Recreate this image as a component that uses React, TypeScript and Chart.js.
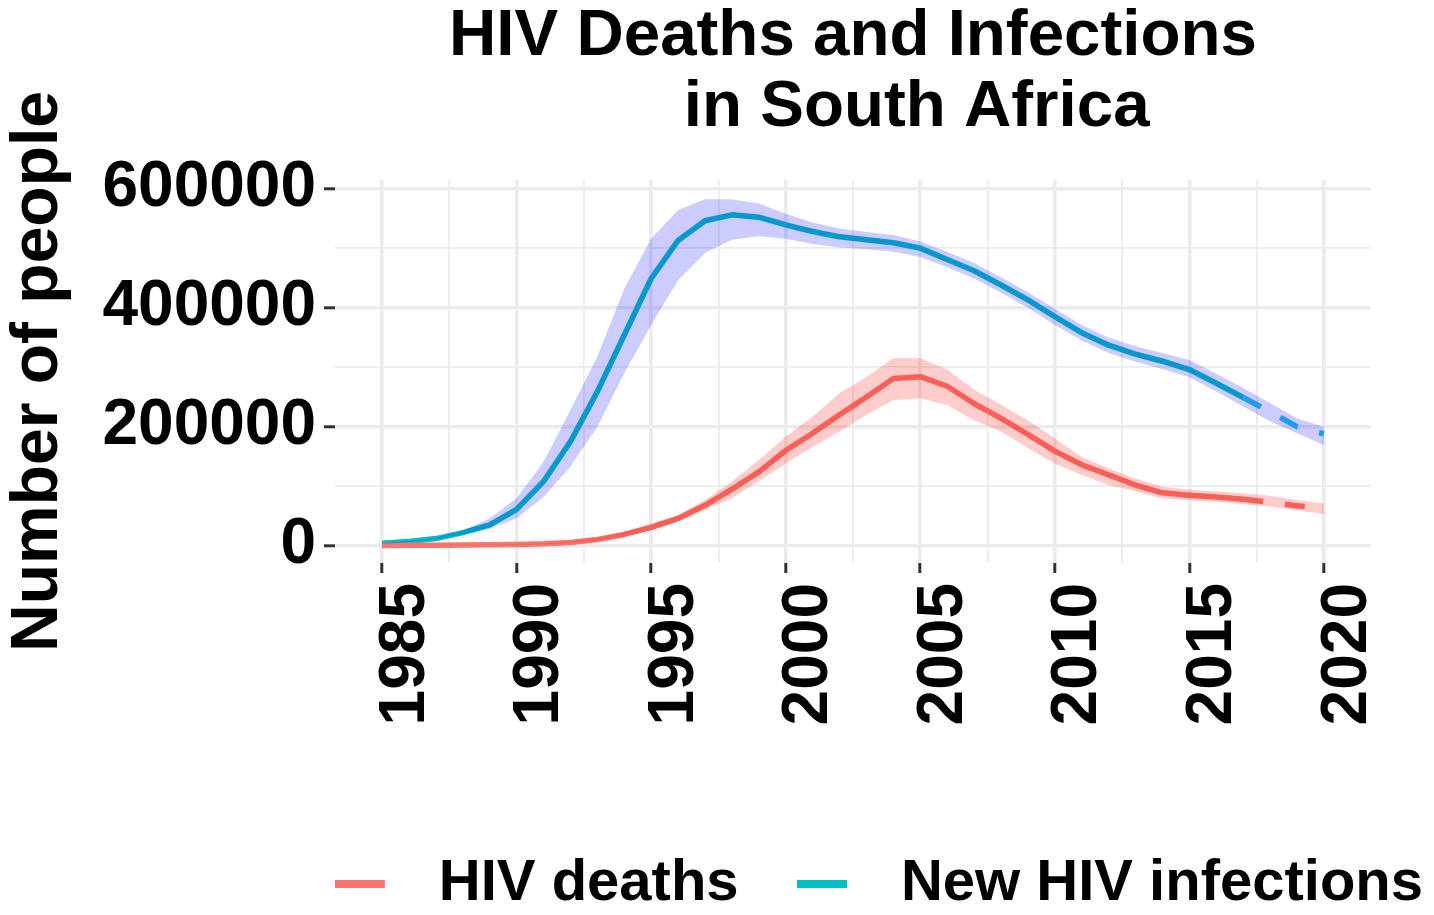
import React, { useEffect, useRef } from 'react';
import { Chart, registerables } from 'chart.js';

Chart.register(...registerables);

// ---------------- data ----------------
const years = [
  1985, 1986, 1987, 1988, 1989, 1990, 1991, 1992, 1993, 1994, 1995, 1996,
  1997, 1998, 1999, 2000, 2001, 2002, 2003, 2004, 2005, 2006, 2007, 2008,
  2009, 2010, 2011, 2012, 2013, 2014, 2015, 2016, 2017, 2018, 2019, 2020,
];

const deaths = [
  500, 700, 900, 1200, 1600, 2200, 3200, 5500, 10500, 19000, 31000, 46000,
  68000, 95000, 124000, 160000, 189000, 220000, 250000, 281000, 284000, 268000, 239000, 214000,
  187000, 159000, 136000, 119000, 102000, 89000, 85000, 82000, 78000, 73000, 67000, 63000,
];
const deathsLow = [
  400, 500, 700, 900, 1200, 1700, 2500, 4200, 8500, 15500, 26000, 40000,
  60000, 80000, 108000, 138000, 166000, 192000, 220000, 245000, 248000, 236000, 211000, 192000,
  164000, 138000, 119000, 102000, 91000, 80000, 77000, 74000, 70000, 66000, 60000, 53000,
];
const deathsHigh = [
  600, 900, 1100, 1500, 2000, 2800, 4000, 7000, 13000, 23000, 37500, 51500,
  77000, 108000, 144000, 183000, 217000, 256000, 284000, 315000, 315000, 296000, 262000, 237000,
  211000, 180000, 149000, 130000, 113000, 99000, 94000, 91000, 88000, 84000, 77000, 71000,
];

const infections = [
  4000, 7000, 12000, 22000, 35000, 61000, 108000, 175000, 259000, 354000, 449000, 513000,
  546000, 556000, 552000, 539000, 528000, 519000, 514000, 509000, 500000, 481000, 462000, 438000,
  413000, 385000, 358000, 337000, 322000, 310000, 296000, 273000, 249000, 225000, 200000, 188000,
];
const infectionsLow = [
  3000, 6000, 10500, 19000, 28000, 46000, 82000, 133000, 200000, 290000, 371000, 446000,
  492000, 514000, 520000, 516000, 507000, 501000, 498000, 494000, 485000, 468000, 449000, 425000,
  400000, 371000, 345000, 324000, 309000, 297000, 283000, 259000, 234000, 209000, 189000, 169000,
];
const infectionsHigh = [
  5000, 8500, 14000, 25000, 46000, 80000, 141000, 228000, 318000, 432000, 516000, 564000,
  582000, 582000, 575000, 558000, 543000, 533000, 527000, 522000, 511000, 494000, 475000, 451000,
  426000, 398000, 371000, 350000, 335000, 324000, 312000, 289000, 265000, 240000, 214000, 200000,
];

const projectionStart = 2017;

const xTickValues = [1985, 1990, 1995, 2000, 2005, 2010, 2015, 2020];
const yTickValues = [0, 200000, 400000, 600000];

const seriesLabels = ['HIV deaths', 'New HIV infections'];
const titleLines = ['HIV Deaths and Infections', '       in South Africa'];
const yAxisTitle = 'Number of people';

// ---------------- styles ----------------
const FONT = "'Liberation Sans', Arial, Helvetica, sans-serif";
const DEATH_COLOR = '#F8766D';
const INF_COLOR = '#00BFC4';
const INF_PROJ_COLOR = '#20C4F0';
const DEATH_BAND = 'rgba(255,0,0,0.2)';
const INF_BAND = 'rgba(0,0,255,0.2)';
const GRID = '#EBEBEB';
const TICK = '#333333';

const pts = (vals: number[]) => years.map((x, i) => ({ x, y: vals[i] }));

// major breaks plus the minor breaks halfway between them
const withMinor = (major: number[]) => {
  const out: { value: number }[] = [];
  major.forEach((v, i) => {
    out.push({ value: v });
    if (i < major.length - 1) out.push({ value: (v + major[i + 1]) / 2 });
  });
  return out;
};

function makeKey(color: string): HTMLCanvasElement {
  const c = document.createElement('canvas');
  c.width = 75;
  c.height = 8;
  const g = c.getContext('2d');
  if (g) {
    g.fillStyle = color;
    g.fillRect(0, 0, 50, 8);
  }
  return c;
}

export default function App() {
  const ref = useRef<HTMLCanvasElement | null>(null);

  useEffect(() => {
    if (!ref.current) return;
    Chart.defaults.font.family = FONT;
    const keyDeaths = makeKey(DEATH_COLOR);
    const keyInf = makeKey(INF_COLOR);

    const isProj = (c: any) => c.p0.parsed.x >= projectionStart;
    const xMajor = (c: any) => !!c.tick && xTickValues.includes(c.tick.value);
    const yMajor = (c: any) => !!c.tick && yTickValues.includes(c.tick.value);

    const chart = new Chart(ref.current, {
      type: 'line',
      data: {
        datasets: [
          {
            label: 'infHigh', data: pts(infectionsHigh), borderWidth: 0, borderColor: 'rgba(0,0,0,0)',
            backgroundColor: INF_BAND, pointRadius: 0, fill: '+1', order: 0, tension: 0,
          },
          {
            label: 'infLow', data: pts(infectionsLow), borderWidth: 0, borderColor: 'rgba(0,0,0,0)',
            pointRadius: 0, fill: false, order: 0, tension: 0,
          },
          {
            label: 'deathHigh', data: pts(deathsHigh), borderWidth: 0, borderColor: 'rgba(0,0,0,0)',
            backgroundColor: DEATH_BAND, pointRadius: 0, fill: '+1', order: 0, tension: 0,
          },
          {
            label: 'deathLow', data: pts(deathsLow), borderWidth: 0, borderColor: 'rgba(0,0,0,0)',
            pointRadius: 0, fill: false, order: 0, tension: 0,
          },
          {
            label: seriesLabels[0], data: pts(deaths), borderColor: DEATH_COLOR, borderWidth: 5.5,
            pointRadius: 0, fill: false, order: 1, tension: 0, borderJoinStyle: 'round',
            segment: { borderDash: (c: any) => (isProj(c) ? [20, 22] : undefined) },
          },
          {
            label: seriesLabels[1], data: pts(infections), borderColor: INF_COLOR, borderWidth: 5.5,
            pointRadius: 0, fill: false, order: 1, tension: 0, borderJoinStyle: 'round',
            segment: {
              borderDash: (c: any) => (isProj(c) ? [20, 22] : undefined),
              borderColor: (c: any) => (isProj(c) ? INF_PROJ_COLOR : undefined),
            },
          },
        ] as any,
      },
      options: {
        responsive: false,
        animation: false,
        events: [],
        devicePixelRatio: 1,
        layout: { padding: { left: 0, right: -7, top: 0, bottom: -16 } },
        plugins: {
          tooltip: { enabled: false },
          title: {
            display: true,
            text: titleLines,
            fullSize: false,
            color: '#000000',
            font: { size: 65.5, weight: 'bold', family: FONT, lineHeight: 71 / 65.5 },
            padding: { top: -6.5, bottom: 36.5 },
          },
          legend: {
            display: true,
            position: 'bottom',
            align: 'end',
            labels: {
              usePointStyle: true,
              pointStyleWidth: 75,
              boxHeight: 8,
              padding: 10,
              color: '#000000',
              font: { size: 58, weight: 'bold', family: FONT },
              generateLabels: () => [
                {
                  text: seriesLabels[0] + '   ', fillStyle: DEATH_COLOR, strokeStyle: DEATH_COLOR,
                  lineWidth: 0, pointStyle: keyDeaths, hidden: false, datasetIndex: 4, fontColor: '#000000',
                },
                {
                  text: seriesLabels[1], fillStyle: INF_COLOR, strokeStyle: INF_COLOR,
                  lineWidth: 0, pointStyle: keyInf, hidden: false, datasetIndex: 5, fontColor: '#000000',
                },
              ] as any,
            },
          },
        },
        scales: {
          x: {
            type: 'linear',
            min: 1983.25,
            max: 2021.75,
            border: { display: false },
            grid: {
              color: GRID,
              lineWidth: (c: any) => (xMajor(c) ? 3.6 : 1.8),
              tickColor: (c: any) => (xMajor(c) ? TICK : 'rgba(0,0,0,0)'),
              tickLength: 10,
              tickWidth: 3,
            },
            afterBuildTicks: (s: any) => { s.ticks = withMinor(xTickValues); },
            ticks: {
              autoSkip: false,
              minRotation: 90,
              maxRotation: 90,
              labelOffset: 24,
              padding: 10,
              color: '#000000',
              font: { size: 64, weight: 'bold', family: FONT },
              callback: (v: any) => (xTickValues.includes(Number(v)) ? String(v) : ''),
            },
            afterFit: (s: any) => { s.height = 282; },
          },
          y: {
            type: 'linear',
            min: -29000,
            max: 614500,
            border: { display: false },
            grid: {
              color: GRID,
              lineWidth: (c: any) => (yMajor(c) ? 3.6 : 1.8),
              tickColor: (c: any) => (yMajor(c) ? TICK : 'rgba(0,0,0,0)'),
              tickLength: 11,
              tickWidth: 3,
            },
            afterBuildTicks: (s: any) => { s.ticks = withMinor(yTickValues); },
            ticks: {
              autoSkip: false,
              padding: 8,
              color: '#000000',
              font: { size: 64, weight: 'bold', family: FONT },
              callback: (v: any) => (yTickValues.includes(Number(v)) ? String(v) : ''),
            },
            title: {
              display: true,
              text: yAxisTitle,
              color: '#000000',
              font: { size: 66, weight: 'bold', family: FONT, lineHeight: 1 },
              padding: { top: -2.3, bottom: 0 },
            },
            afterFit: (s: any) => { s.width = 327; },
          },
          pad: {
            type: 'linear',
            position: 'right',
            display: true,
            grid: { display: false, drawTicks: false },
            border: { display: false },
            ticks: { display: false },
            afterFit: (s: any) => { s.width = 62; },
          },
        } as any,
      },
    });
    return () => chart.destroy();
  }, []);

  return (
    <div style={{ width: 1418, height: 899 }}>
      <canvas ref={ref} width={1418} height={899} style={{ display: 'block' }} />
    </div>
  );
}
